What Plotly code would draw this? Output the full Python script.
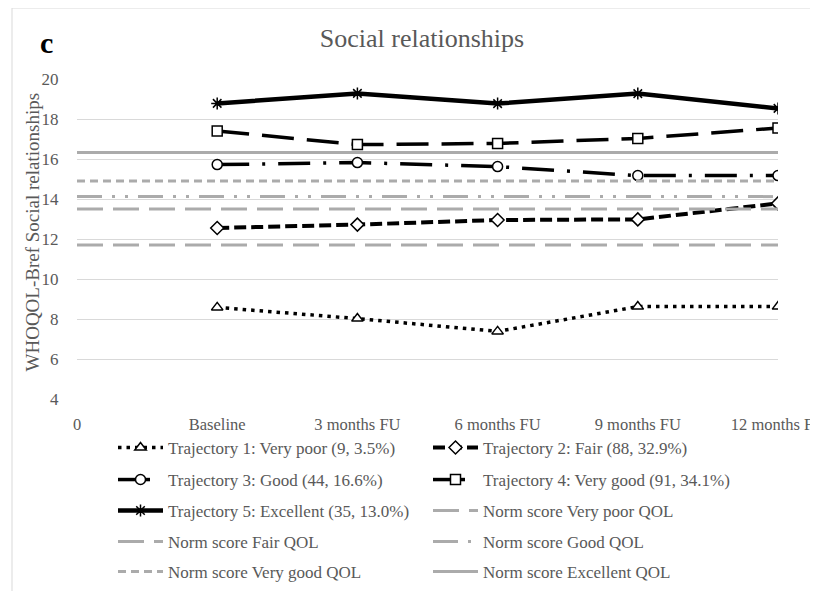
import plotly.graph_objects as go

# ---- data ----
x_labels = ["0", "Baseline", "3 months FU", "6 months FU", "9 months FU", "12 months FU"]
timepoints = ["Baseline", "3 months FU", "6 months FU", "9 months FU", "12 months FU"]

traj1 = [8.58, 8.02, 7.38, 8.62, 8.62]
traj2 = [12.55, 12.72, 12.95, 12.98, 13.78]
traj3 = [15.72, 15.82, 15.62, 15.17, 15.17]
traj4 = [17.40, 16.72, 16.78, 17.03, 17.55]
traj5 = [18.78, 19.28, 18.77, 19.27, 18.53]

norm_very_poor = [11.7, 11.7, 11.7, 11.7, 11.7, 11.7]
norm_fair = [13.5, 13.5, 13.5, 13.5, 13.5, 13.5]
norm_good = [14.12, 14.12, 14.12, 14.12, 14.12, 14.12]
norm_very_good = [14.9, 14.9, 14.9, 14.9, 14.9, 14.9]
norm_excellent = [16.32, 16.32, 16.32, 16.32, 16.32, 16.32]

y_ticks = [4, 6, 8, 10, 12, 14, 16, 18, 20]

FONT = "Liberation Serif"
TXT = "#595959"
NORM = "#ABABAB"
GRID = "#D9D9D9"

fig = go.Figure()

def traj(name, y, dash, width, symbol, legend):
    fig.add_trace(go.Scatter(
        x=timepoints, y=y, name=name, mode="lines+markers",
        line=dict(color="black", width=width, dash=dash),
        marker=dict(symbol=symbol, size=10, color="white",
                    line=dict(color="black", width=1.5)),
        legend=legend,
    ))

def norm(name, y, dash, legend):
    fig.add_trace(go.Scatter(
        x=x_labels, y=y, name=name, mode="lines",
        line=dict(color=NORM, width=3, dash=dash),
        legend=legend,
    ))

traj("Trajectory 1: Very poor (9, 3.5%)", traj1, "3.5px,5px", 3.5, "triangle-up", "legend")
traj("Trajectory 2: Fair (88, 32.9%)", traj2, "12px,5px", 4, "diamond", "legend")
traj("Trajectory 3: Good (44, 16.6%)", traj3, "32px,13px,3px,13px", 3.5, "circle", "legend2")
traj("Trajectory 4: Very good (91, 34.1%)", traj4, "32px,13px", 3.5, "square", "legend2")
fig.add_trace(go.Scatter(
    x=timepoints, y=traj5, name="Trajectory 5: Excellent (35, 13.0%)", mode="lines+markers",
    line=dict(color="black", width=4.5),
    marker=dict(symbol="asterisk-open", size=10, color="black",
                line=dict(color="black", width=1.5)),
    legend="legend3",
))
norm("Norm score Very poor QOL", norm_very_poor, "26px,10px", "legend3")
norm("Norm score Fair QOL", norm_fair, "26px,10px", "legend4")
norm("Norm score Good QOL", norm_good, "25px,10px,3px,10px,3px,10px", "legend4")
norm("Norm score Very good QOL", norm_very_good, "8px,5px", "legend5")
norm("Norm score Excellent QOL", norm_excellent, "solid", "legend5")

# page places the figure 8px in from the window corner
OFF = 8
W, H = 818 - OFF, 591 - OFF
# plot area in window pixels: x 77..778, y 79..399
L = 77 - OFF
T = 79 - OFF
R = W - (778 - OFF)
B = H - (399 - OFF)
pw, ph = W - L - R, H - T - B

def px(xv):  # window pixel x -> paper fraction
    return (xv - OFF - L) / pw

def py(yv):  # window pixel y -> paper fraction
    return (H - B - (yv - OFF)) / ph

legend_common = dict(
    orientation="h", xref="paper", yref="paper",
    xanchor="left", yanchor="middle", x=px(113),
    entrywidth=255, entrywidthmode="pixels", itemwidth=45,
    font=dict(family=FONT, size=17, color=TXT),
    bgcolor="rgba(0,0,0,0)", traceorder="normal",
)
rows = [448, 480, 511, 542, 572]
legends = {}
for i, r in enumerate(rows):
    key = "legend" if i == 0 else f"legend{i+1}"
    legends[key] = dict(legend_common, y=py(r))

fig.update_layout(
    width=W, height=H,
    margin=dict(l=L, r=R, t=T, b=B, autoexpand=False),
    paper_bgcolor="white", plot_bgcolor="white",
    font=dict(family=FONT, color=TXT),
    title=dict(text="Social relationships", x=(422 - OFF) / W, xref="container", xanchor="center",
               y=1 - (38 - OFF) / H, yref="container", yanchor="middle",
               font=dict(family=FONT, size=26, color=TXT)),
    xaxis=dict(type="category", categoryorder="array", categoryarray=x_labels,
               range=[0, 5], tickvals=x_labels, ticktext=x_labels,
               showgrid=False, zeroline=False, showline=False, automargin=False,
               ticks="outside", ticklen=10, tickcolor="rgba(0,0,0,0)",
               tickfont=dict(family=FONT, size=16.5, color=TXT)),
    yaxis=dict(range=[4, 20], tickvals=y_ticks, showgrid=True, gridcolor=GRID, gridwidth=1,
               zeroline=False, showline=False, automargin=False,
               ticks="outside", ticklen=14, tickcolor="rgba(0,0,0,0)",
               tickfont=dict(family=FONT, size=17, color=TXT)),
    showlegend=True,
    **legends,
)

fig.add_annotation(text="WHOQOL-Bref Social relationships", textangle=-90,
                   xref="paper", yref="paper", x=px(32), y=py(232.5),
                   xanchor="center", yanchor="middle", showarrow=False,
                   font=dict(family=FONT, size=19, color=TXT))
fig.add_annotation(text="<b>c</b>", xref="paper", yref="paper", x=px(46.5), y=py(43),
                   xanchor="center", yanchor="middle", showarrow=False,
                   font=dict(family=FONT, size=30, color="black"))
fig.add_shape(type="rect", xref="paper", yref="paper",
              x0=px(12), x1=px(900), y0=py(8), y1=py(700),
              line=dict(color=GRID, width=1), fillcolor="rgba(0,0,0,0)", layer="below")

fig.write_html("out.html")
